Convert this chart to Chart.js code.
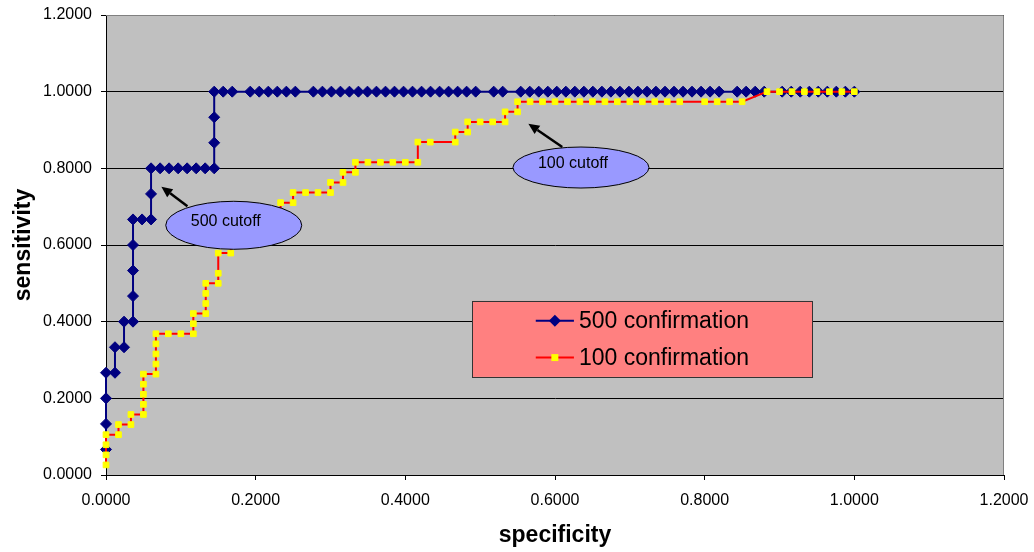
<!DOCTYPE html>
<html>
<head>
<meta charset="utf-8">
<script src="https://cdn.jsdelivr.net/npm/chart.js@4.4.0/dist/chart.umd.min.js"></script>
<style>
  html, body { margin: 0; padding: 0; background: #fff; }
  #wrap { width: 1034px; height: 552px; }
</style>
</head>
<body>
<div id="wrap"><canvas id="rocChart" width="1034" height="552"></canvas></div>
<script>
// 500 confirmation: specificity / sensitivity pairs
const spec500 = [
  0, 0, 0, 0, 0.0120, 0.0120, 0.0241, 0.0241, 0.0361, 0.0361,
  0.0361, 0.0361, 0.0361, 0.0482, 0.0602, 0.0602, 0.0602, 0.0723, 0.0843, 0.0964,
  0.1084, 0.1205, 0.1325, 0.1446, 0.1446, 0.1446, 0.1446, 0.1566, 0.1687,
  0.1928, 0.2048, 0.2169, 0.2289, 0.2410, 0.2530,
  0.2771, 0.2892, 0.3012, 0.3133, 0.3253, 0.3373, 0.3494, 0.3614, 0.3735, 0.3855,
  0.3976, 0.4096, 0.4217, 0.4337, 0.4458, 0.4578, 0.4699, 0.4819, 0.4940,
  0.5181, 0.5301,
  0.5542, 0.5663, 0.5783, 0.5904, 0.6024, 0.6145, 0.6265, 0.6386, 0.6506, 0.6627,
  0.6747, 0.6867, 0.6988, 0.7108, 0.7229, 0.7349, 0.7470, 0.7590, 0.7711, 0.7831,
  0.7952, 0.8072, 0.8193,
  0.8434, 0.8554, 0.8675, 0.8795,
  0.9036, 0.9157, 0.9277, 0.9398, 0.9518, 0.9639, 0.9759, 0.9880, 1.0000
];
const sens500 = [
  0.0667, 0.1333, 0.2000, 0.2667, 0.2667, 0.3333, 0.3333, 0.4000, 0.4000, 0.4667,
  0.5333, 0.6000, 0.6667, 0.6667, 0.6667, 0.7333, 0.8000, 0.8000, 0.8000, 0.8000,
  0.8000, 0.8000, 0.8000, 0.8000, 0.8667, 0.9333, 1.0000, 1.0000, 1.0000,
  1.0000, 1.0000, 1.0000, 1.0000, 1.0000, 1.0000,
  1.0000, 1.0000, 1.0000, 1.0000, 1.0000, 1.0000, 1.0000, 1.0000, 1.0000, 1.0000,
  1.0000, 1.0000, 1.0000, 1.0000, 1.0000, 1.0000, 1.0000, 1.0000, 1.0000,
  1.0000, 1.0000,
  1.0000, 1.0000, 1.0000, 1.0000, 1.0000, 1.0000, 1.0000, 1.0000, 1.0000, 1.0000,
  1.0000, 1.0000, 1.0000, 1.0000, 1.0000, 1.0000, 1.0000, 1.0000, 1.0000, 1.0000,
  1.0000, 1.0000, 1.0000,
  1.0000, 1.0000, 1.0000, 1.0000,
  1.0000, 1.0000, 1.0000, 1.0000, 1.0000, 1.0000, 1.0000, 1.0000, 1.0000
];

// 100 confirmation
const spec100 = [
  0, 0, 0, 0, 0.0167, 0.0167, 0.0333, 0.0333,
  0.0500, 0.0500, 0.0500, 0.0500, 0.0500, 0.0667, 0.0667, 0.0667, 0.0667, 0.0667,
  0.0833, 0.1000, 0.1167, 0.1167, 0.1167, 0.1333, 0.1333, 0.1333, 0.1333,
  0.1500, 0.1500, 0.1500, 0.1667, 0.1667, 0.1833, 0.1833, 0.2000, 0.2000,
  0.2167, 0.2167, 0.2333, 0.2333, 0.2500, 0.2500, 0.2667, 0.2833, 0.3000, 0.3000,
  0.3167, 0.3167, 0.3333, 0.3333, 0.3500, 0.3667, 0.3833, 0.4000, 0.4167, 0.4167,
  0.4333, 0.4667, 0.4667, 0.4833, 0.4833, 0.5000, 0.5167, 0.5333, 0.5333, 0.5500, 0.5500,
  0.5667, 0.5833, 0.6000, 0.6167, 0.6333, 0.6500, 0.6667, 0.6833, 0.7000, 0.7167,
  0.7333, 0.7500, 0.7667,
  0.8000, 0.8167, 0.8333, 0.8500,
  0.8833, 0.9000, 0.9167, 0.9333, 0.9500, 0.9667, 0.9833, 1.0000
];
const sens100 = [
  0.0263, 0.0526, 0.0789, 0.1053, 0.1053, 0.1316, 0.1316, 0.1579,
  0.1579, 0.1842, 0.2105, 0.2368, 0.2632, 0.2632, 0.2895, 0.3158, 0.3421, 0.3684,
  0.3684, 0.3684, 0.3684, 0.3947, 0.4211, 0.4211, 0.4474, 0.4737, 0.5000,
  0.5000, 0.5263, 0.5789, 0.5789, 0.6053, 0.6053, 0.6316, 0.6316, 0.6579,
  0.6579, 0.6842, 0.6842, 0.7105, 0.7105, 0.7368, 0.7368, 0.7368, 0.7368, 0.7632,
  0.7632, 0.7895, 0.7895, 0.8158, 0.8158, 0.8158, 0.8158, 0.8158, 0.8158, 0.8684,
  0.8684, 0.8684, 0.8947, 0.8947, 0.9211, 0.9211, 0.9211, 0.9211, 0.9474, 0.9474, 0.9737,
  0.9737, 0.9737, 0.9737, 0.9737, 0.9737, 0.9737, 0.9737, 0.9737, 0.9737, 0.9737,
  0.9737, 0.9737, 0.9737,
  0.9737, 0.9737, 0.9737, 0.9737,
  1.0000, 1.0000, 1.0000, 1.0000, 1.0000, 1.0000, 1.0000, 1.0000
];

const seriesNames = ['500 confirmation', '100 confirmation'];
const axisTicks = [0, 0.2, 0.4, 0.6, 0.8, 1.0, 1.2];

// callout bubbles and arrows, in data units
const callouts = [
  { text: '500 cutoff', cx: 0.1707, cy: 0.6514, rx: 68, ry: 24, tail: [0.1088, 0.7010], tip: [0.0740, 0.7520] },
  { text: '100 cutoff', cx: 0.6347, cy: 0.8021, rx: 68, ry: 20.5, tail: [0.6097, 0.8556], tip: [0.5644, 0.9164] }
];

function toPoints(xs, ys) {
  return xs.map((x, i) => ({ x: x, y: ys[i] }));
}

Chart.defaults.font.family = '"Liberation Sans", Arial, sans-serif';
Chart.defaults.color = '#000';

function drawArrow(ctx, x1, y1, x2, y2) {
  const ang = Math.atan2(y2 - y1, x2 - x1);
  const head = 11, half = 5;
  const bx = x2 - head * Math.cos(ang), by = y2 - head * Math.sin(ang);
  ctx.strokeStyle = '#000';
  ctx.fillStyle = '#000';
  ctx.lineWidth = 2.5;
  ctx.beginPath(); ctx.moveTo(x1, y1); ctx.lineTo(bx, by); ctx.stroke();
  ctx.beginPath();
  ctx.moveTo(x2, y2);
  ctx.lineTo(bx + half * Math.sin(ang), by - half * Math.cos(ang));
  ctx.lineTo(bx - half * Math.sin(ang), by + half * Math.cos(ang));
  ctx.closePath(); ctx.fill();
}

const rocDecor = {
  id: 'rocDecor',
  beforeDraw(chart) {
    const { ctx, chartArea: a } = chart;
    ctx.save();
    ctx.fillStyle = '#C0C0C0';
    ctx.fillRect(a.left, a.top, a.right - a.left, a.bottom - a.top);
    ctx.restore();
  },
  beforeDatasetsDraw(chart) {
    const { ctx, chartArea: a } = chart;
    ctx.save();
    ctx.strokeStyle = '#808080';
    ctx.lineWidth = 1;
    ctx.beginPath();
    ctx.moveTo(a.left, a.top + 0.5);
    ctx.lineTo(a.right - 0.5, a.top + 0.5);
    ctx.lineTo(a.right - 0.5, a.bottom);
    ctx.stroke();
    ctx.restore();
  },
  afterDraw(chart) {
    const { ctx } = chart;
    const xs = chart.scales.x, ys = chart.scales.y;
    const px = v => xs.getPixelForValue(v);
    const py = v => ys.getPixelForValue(v);
    ctx.save();

    callouts.forEach(c => {
      drawArrow(ctx, px(c.tail[0]), py(c.tail[1]), px(c.tip[0]), py(c.tip[1]));
      ctx.beginPath();
      ctx.ellipse(px(c.cx), py(c.cy), c.rx, c.ry, 0, 0, Math.PI * 2);
      ctx.fillStyle = '#9999FF';
      ctx.fill();
      ctx.lineWidth = 1;
      ctx.strokeStyle = '#000';
      ctx.stroke();
      ctx.fillStyle = '#000';
      ctx.font = '16px "Liberation Sans", Arial, sans-serif';
      ctx.textAlign = 'center';
      ctx.textBaseline = 'middle';
      ctx.fillText(c.text, px(c.cx) - 8, py(c.cy) - 4);
    });

    // legend box
    const lx0 = px(0.4893), lx1 = px(0.9440), ly0 = py(0.4543), ly1 = py(0.2559);
    ctx.fillStyle = '#FF8080';
    ctx.fillRect(lx0, ly0, lx1 - lx0, ly1 - ly0);
    ctx.strokeStyle = '#333';
    ctx.lineWidth = 1;
    ctx.strokeRect(Math.round(lx0) + 0.5, Math.round(ly0) + 0.5, Math.round(lx1 - lx0), Math.round(ly1 - ly0));

    const rows = [py(0.4021), py(0.3063)];
    const s0 = px(0.5743), s1 = px(0.6253), tx = px(0.6320);
    chart.data.datasets.forEach((ds, k) => {
      const y = rows[k];
      ctx.strokeStyle = ds.borderColor;
      ctx.lineWidth = 2;
      ctx.beginPath(); ctx.moveTo(s0, y); ctx.lineTo(s1, y); ctx.stroke();
      const m = (s0 + s1) / 2;
      ctx.fillStyle = ds.pointBackgroundColor;
      ctx.beginPath();
      if (ds.pointStyle === 'rectRot') {
        ctx.moveTo(m, y - 6); ctx.lineTo(m + 6, y); ctx.lineTo(m, y + 6); ctx.lineTo(m - 6, y);
      } else {
        ctx.rect(m - 3.5, y - 3.5, 7, 7);
      }
      ctx.closePath(); ctx.fill();
      ctx.fillStyle = '#000';
      ctx.font = '23px "Liberation Sans", Arial, sans-serif';
      ctx.textAlign = 'left';
      ctx.textBaseline = 'middle';
      ctx.fillText(ds.label, tx, y + 1);
    });
    ctx.restore();
  }
};

new Chart(document.getElementById('rocChart'), {
  type: 'scatter',
  data: {
    datasets: [
      {
        label: seriesNames[0],
        data: toPoints(spec500, sens500),
        showLine: true,
        borderColor: '#000080',
        borderWidth: 2,
        pointStyle: 'rectRot',
        pointRadius: 5.5,
        pointBackgroundColor: '#000080',
        pointBorderColor: '#000080',
        pointBorderWidth: 1,
        order: 2,
        clip: 12
      },
      {
        label: seriesNames[1],
        data: toPoints(spec100, sens100),
        showLine: true,
        borderColor: '#FF0000',
        borderWidth: 2,
        pointStyle: 'rect',
        pointRadius: 4,
        pointBackgroundColor: '#FFFF00',
        pointBorderColor: '#FFFF00',
        pointBorderWidth: 1,
        order: 1,
        clip: 12
      }
    ]
  },
  options: {
    responsive: false,
    animation: false,
    devicePixelRatio: 1,
    layout: { padding: { top: 15, right: 30, left: 0, bottom: 0 } },
    plugins: {
      legend: { display: false },
      tooltip: { enabled: false }
    },
    scales: {
      x: {
        type: 'linear',
        min: 0, max: 1.2,
        afterBuildTicks: s => { s.ticks = axisTicks.map(v => ({ value: v })); },
        afterFit: s => { s.height = 77; s.paddingLeft = 0; s.paddingRight = 0; },
        grid: { drawOnChartArea: false, drawTicks: true, tickLength: 5, color: '#000' },
        border: { color: '#000', width: 1 },
        ticks: { callback: v => v.toFixed(4), font: { size: 16 }, padding: 11, maxRotation: 0 },
        title: { display: true, text: 'specificity', font: { size: 23, weight: 'bold' }, padding: { top: 0, bottom: 3 } }
      },
      y: {
        type: 'linear',
        min: 0, max: 1.2,
        afterBuildTicks: s => { s.ticks = axisTicks.map(v => ({ value: v })); },
        afterFit: s => { s.width = 106; s.paddingTop = 0; s.paddingBottom = 0; },
        grid: { color: '#000', lineWidth: 1, tickLength: 5 },
        border: { color: '#000', width: 1 },
        ticks: { callback: v => v.toFixed(4), font: { size: 16 }, padding: 9 },
        title: { display: true, text: 'sensitivity', font: { size: 23, weight: 'bold' }, padding: { top: 10, bottom: 0 } }
      }
    }
  },
  plugins: [rocDecor]
});
</script>
</body>
</html>
